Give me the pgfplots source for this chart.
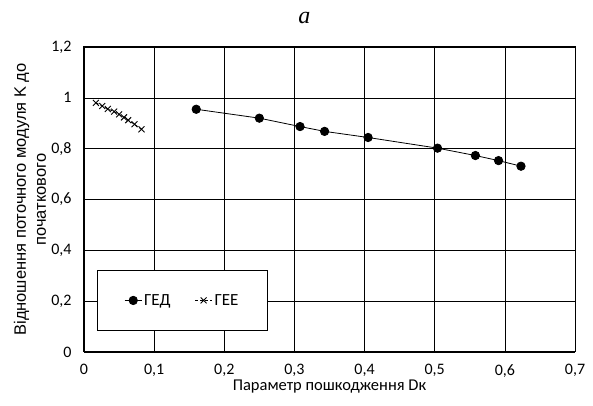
\documentclass[border=0pt]{standalone}
\usepackage{pgfplots}
\pgfplotsset{compat=1.18}
\usepackage{fontspec}
\setmainfont{Carlito}
\newfontfamily\arialf{Liberation Sans}
\newfontfamily\titlef{Liberation Serif}
\begin{document}
\begin{tikzpicture}
\begin{axis}[
  scale only axis, width=491pt, height=305pt,
  xmin=0, xmax=0.7, ymin=0, ymax=1.2,
  xtick={0,0.1,0.2,0.3,0.4,0.5,0.6,0.7},
  ytick={0,0.2,0.4,0.6,0.8,1,1.2},
  grid=major, major grid style={black, line width=0.6pt},
  axis line style={black, line width=1pt},
  major tick length=0pt,
  tick label style={font=\fontsize{16}{19}\selectfont, black},
  /pgf/number format/use comma,
  /pgf/number format/assume math mode=true,
  xticklabel style={yshift=-9pt},
  yticklabel style={xshift=-9pt},
  xlabel={Параметр пошкодження Dк},
  xlabel style={font=\fontsize{16.5}{19}\selectfont, at={(axis description cs:0.5,0)}, anchor=center, yshift=-35pt},
  ylabel={Відношення поточного модуля K до\\початкового},
  ylabel style={font=\arialf\fontsize{16.5}{20}\selectfont, align=center, at={(axis description cs:-0.11,0.5)}, anchor=center},
  title={\titlef\itshape a},
  title style={font=\fontsize{24}{26}\selectfont, at={(axis description cs:0.5,1)}, anchor=center, yshift=23pt, xshift=-25pt},
  legend style={at={(0.0265,0.069)}, anchor=south west, legend columns=2, draw=black, line width=0.6pt,
    font=\fontsize{17}{20}\selectfont, inner xsep=27pt, inner ysep=22pt},
  /tikz/every even column/.append style={column sep=22pt},
]
\coordinate (ll) at (rel axis cs:0,0);
\coordinate (ur) at (rel axis cs:1,1);
\addplot[black, line width=0.8pt, mark=*, mark size=4.2pt] coordinates {
  (0.160,0.955) (0.250,0.920) (0.308,0.887) (0.343,0.868) (0.405,0.844)
  (0.504,0.802) (0.558,0.773) (0.591,0.753) (0.623,0.731)
};
\addlegendentry{ГЕД}
\addplot[black, line width=0.8pt, dash pattern=on 3pt off 2pt, mark=x, mark size=4.2pt, mark options={solid, line width=0.9pt}] coordinates {
  (0.017,0.980) (0.026,0.968) (0.034,0.956) (0.043,0.946) (0.050,0.935)
  (0.057,0.923) (0.063,0.912) (0.072,0.896) (0.082,0.876)
};
\addlegendentry{ГЕЕ}
\end{axis}
\pgfresetboundingbox
\path[use as bounding box] ([shift={(-84pt,-54pt)}]ll) rectangle ([shift={(18pt,47pt)}]ur);
\end{tikzpicture}
\end{document}
